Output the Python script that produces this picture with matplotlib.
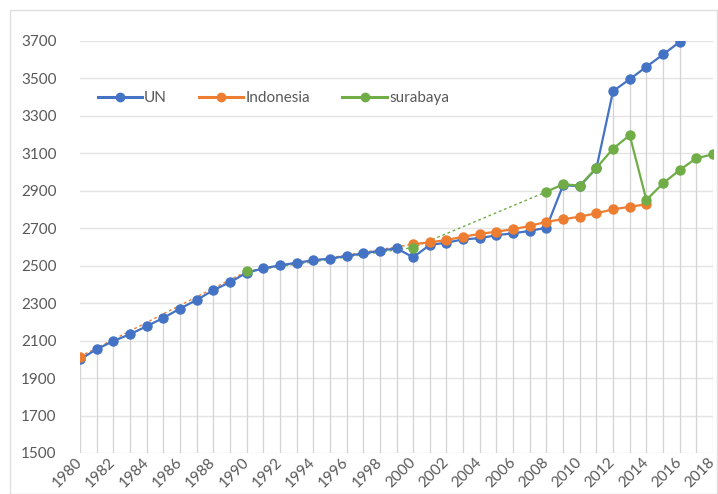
import numpy as np
import matplotlib.pyplot as plt
from matplotlib.patches import Rectangle

plt.rcParams['font.family'] = ['Lato', 'DejaVu Sans']

# data
un_years = list(range(1980, 2017))
un_vals = [2000, 2054, 2098, 2134, 2177, 2221, 2271, 2317, 2369, 2412,
           2462, 2486, 2502, 2516, 2529, 2538, 2552, 2566, 2580, 2593,
           2545, 2611, 2623, 2641, 2647, 2663, 2673, 2686, 2703, 2930,
           2925, 3020, 3432, 3496, 3562, 3628, 3695]

indo_years = [1980] + list(range(2000, 2015))
indo_vals = [2015, 2615, 2625, 2637, 2655, 2670, 2682, 2695, 2712, 2735,
             2748, 2762, 2780, 2801, 2815, 2828]

sby_years = [1990, 2000] + list(range(2008, 2019))
sby_vals = [2470, 2597, 2895, 2935, 2928, 3022, 3125, 3197, 2851, 2940,
            3011, 3074, 3095]

# dotted gap connectors
indo_gap_years = [1980, 1990, 2000]
indo_gap_vals = [2015, 2470, 2615]
sby_gap_years = [1990, 2000, 2008]
sby_gap_vals = [2470, 2597, 2895]

blue = '#4472C4'
orange = '#ED7D31'
green = '#70AD47'
txt = '#595959'

fig = plt.figure(figsize=(7.18, 4.94), dpi=100)
ax = fig.add_axes([80 / 718, 1 - 453 / 494, 633 / 718, 412 / 494])

# drop lines from the highest point of each year
all_pts = {}
for yrs, vals in [(un_years, un_vals), (indo_years, indo_vals), (sby_years, sby_vals)]:
    for y, v in zip(yrs, vals):
        all_pts[y] = max(all_pts.get(y, 0), v)
drop_x = sorted(all_pts)
ax.vlines(drop_x, 1500, [all_pts[x] for x in drop_x], color='#d3d3d3', lw=0.9, zorder=1)

ax.plot(indo_gap_years, indo_gap_vals, color=orange, lw=1, ls=(0, (2, 2)), zorder=2)
ax.plot(sby_gap_years, sby_gap_vals, color=green, lw=1, ls=(0, (2, 2)), zorder=2)

ms = 6.5
ax.plot(un_years, un_vals, color=blue, lw=1.6, marker='o', ms=ms, zorder=3)
ax.plot(indo_years[1:], indo_vals[1:], color=orange, lw=1.6, marker='o', ms=ms, zorder=4)
ax.plot(indo_years[:1], indo_vals[:1], color=orange, marker='o', ms=ms, ls='none', zorder=4)
ax.plot(sby_years[2:], sby_vals[2:], color=green, lw=1.6, marker='o', ms=ms, zorder=5)
ax.plot(sby_years[:2], sby_vals[:2], color=green, marker='o', ms=ms, ls='none', zorder=5)

h1, = ax.plot([], [], color=blue, lw=2.2, marker='o', ms=6)
h2, = ax.plot([], [], color=orange, lw=2.2, marker='o', ms=6)
h3, = ax.plot([], [], color=green, lw=2.2, marker='o', ms=6)
leg = ax.legend([h1, h2, h3], ['UN', 'Indonesia', 'surabaya'], ncol=3, frameon=False,
                loc='center left', bbox_to_anchor=(0.006, 0.862), fontsize=11,
                handlelength=2.9, handletextpad=0.15, columnspacing=2.1)
for t in leg.get_texts():
    t.set_color(txt)

ax.set_xlim(1980, 2018)
ax.set_ylim(1500, 3700)
ax.set_yticks(np.arange(1500, 3701, 200))
ax.set_yticklabels([str(v) for v in range(1500, 3701, 200)], fontsize=11)
ax.set_xticks(np.arange(1980, 2019, 2))
ax.set_xticklabels([str(y) for y in range(1980, 2019, 2)], rotation=45, fontsize=11,
                   ha='right', va='center', rotation_mode='anchor')
ax.tick_params(axis='both', length=0, colors=txt)
ax.tick_params(axis='y', pad=17)
ax.tick_params(axis='x', pad=5)
ax.grid(axis='y', color='#e4e4e4', lw=1)
ax.set_axisbelow(True)
for s in ax.spines.values():
    s.set_visible(False)

fig.patches.append(Rectangle((10 / 718, 0), 707 / 718, 1 - 10 / 494, transform=fig.transFigure,
                             fill=False, edgecolor='#e0e0e0', lw=1))

fig.savefig('out.png', dpi=100)
